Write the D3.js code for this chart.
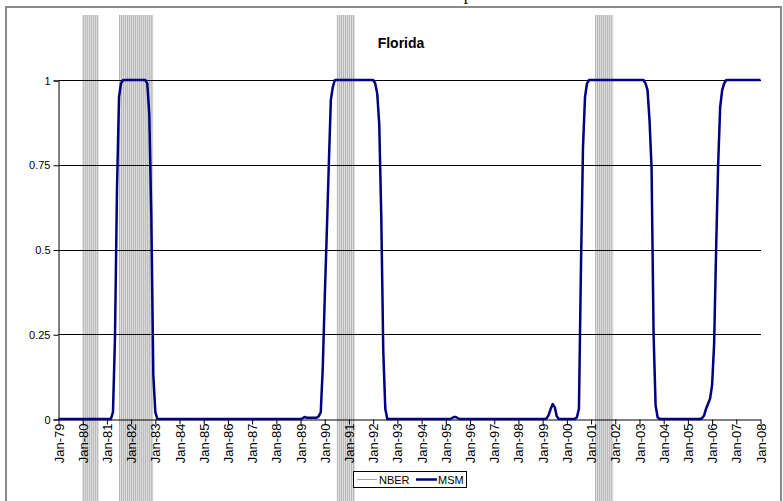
<!DOCTYPE html>
<html>
<head>
<meta charset="utf-8">
<script src="https://cdn.jsdelivr.net/npm/d3@7"></script>
<style>
  html, body { margin: 0; padding: 0; background: #ffffff; }
  text { font-family: "Liberation Sans", Arial, sans-serif; }
</style>
</head>
<body>
<script>
// Monthly regime probabilities, Jan-79 .. Jan-08 (one row per year)
const msm = [
  0,0,0,0,0,0,0,0,0,0,0,0,                               // 1979
  0,0,0,0,0,0,0,0,0,0,0,0,                               // 1980
  0,0,0,0.02,0.24,0.68,0.95,0.99,1,1,1,1,                // 1981
  1,1,1,1,1,1,1,1,0.99,0.9,0.6,0.13,                     // 1982
  0.02,0,0,0,0,0,0,0,0,0,0,0,                            // 1983
  0,0,0,0,0,0,0,0,0,0,0,0,                               // 1984
  0,0,0,0,0,0,0,0,0,0,0,0,                               // 1985
  0,0,0,0,0,0,0,0,0,0,0,0,                               // 1986
  0,0,0,0,0,0,0,0,0,0,0,0,                               // 1987
  0,0,0,0,0,0,0,0,0,0,0,0,                               // 1988
  0,0.002,0.006,0.004,0.004,0.004,0.004,0.004,0.004,0.008,0.02,0.15, // 1989
  0.36,0.55,0.75,0.94,0.98,1,1,1,1,1,1,1,                // 1990
  1,1,1,1,1,1,1,1,1,1,1,1,                               // 1991
  1,0.99,0.96,0.87,0.6,0.2,0.03,0,0,0,0,0,               // 1992
  0,0,0,0,0,0,0,0,0,0,0,0,                               // 1993
  0,0,0,0,0,0,0,0,0,0,0,0,                               // 1994
  0,0,0,0.002,0.006,0.006,0.002,0,0,0,0,0,               // 1995
  0,0,0,0,0,0,0,0,0,0,0,0,                               // 1996
  0,0,0,0,0,0,0,0,0,0,0,0,                               // 1997
  0,0,0,0,0,0,0,0,0,0,0,0,                               // 1998
  0,0,0.002,0.012,0.03,0.044,0.035,0.008,0,0,0,0,        // 1999
  0,0,0,0,0,0.005,0.03,0.45,0.8,0.95,0.99,1,             // 2000
  1,1,1,1,1,1,1,1,1,1,1,1,                               // 2001
  1,1,1,1,1,1,1,1,1,1,1,1,                               // 2002
  1,1,1,0.99,0.97,0.88,0.74,0.25,0.04,0.005,0,0,         // 2003
  0,0,0,0,0,0,0,0,0,0,0,0,                               // 2004
  0,0,0,0,0,0,0,0.002,0.01,0.03,0.045,0.06,              // 2005
  0.1,0.22,0.5,0.75,0.92,0.97,0.99,1,1,1,1,1,            // 2006
  1,1,1,1,1,1,1,1,1,1,1,1,                               // 2007
  1                                                       // Jan 2008
];

// NBER recession spans as [first month, last month] indices from Jan-79
const nberSpans = [[12, 19], [30, 46], [138, 146], [266, 274]];

const xTickLabels = ["Jan-79","Jan-80","Jan-81","Jan-82","Jan-83","Jan-84","Jan-85","Jan-86",
  "Jan-87","Jan-88","Jan-89","Jan-90","Jan-91","Jan-92","Jan-93","Jan-94","Jan-95","Jan-96",
  "Jan-97","Jan-98","Jan-99","Jan-00","Jan-01","Jan-02","Jan-03","Jan-04","Jan-05","Jan-06",
  "Jan-07","Jan-08"];
const yTicks = [0, 0.25, 0.5, 0.75, 1];
const yTickLabels = ["0", "0.25", "0.5", "0.75", "1"];

const W = 783, H = 501;
const svg = d3.select("body").append("svg").attr("width", W).attr("height", H);

// heading line above the chart frame (only its descender falls inside the page)
svg.append("text").attr("x", 468).attr("y", 0)
  .attr("text-anchor", "middle")
  .style("font-family", "'Liberation Serif', serif").style("font-size", "17px")
  .text("p");

// chart frame
svg.append("rect").attr("x", 6).attr("y", 7).attr("width", 775).attr("height", 520)
  .attr("fill", "#ffffff").attr("stroke", "#8a8a8a").attr("stroke-width", 2);

const x = d3.scaleLinear().domain([0, msm.length - 1]).range([58.5, 760.5]);
const y = d3.scaleLinear().domain([0, 1]).range([419, 80]);
const step = x(1) - x(0);

// NBER recession months, one striped column per month
const months = [];
nberSpans.forEach(([a, b]) => { for (let i = a; i <= b; i++) months.push(i); });
const nber = svg.append("g");
nber.selectAll("rect").data(months).join("rect")
  .attr("x", d => x(d)).attr("y", 15)
  .attr("width", step).attr("height", H - 15)
  .attr("fill", "#e0e0e0");
nber.selectAll("line").data(months).join("line")
  .attr("x1", d => x(d) + 0.5).attr("x2", d => x(d) + 0.5)
  .attr("y1", 15).attr("y2", H)
  .attr("stroke", "#b4b4b4").attr("stroke-width", 1);

// horizontal gridlines
svg.append("g").selectAll("line").data(yTicks.filter(d => d > 0)).join("line")
  .attr("x1", 58.5).attr("x2", 761)
  .attr("y1", d => Math.round(y(d)) + 0.5).attr("y2", d => Math.round(y(d)) + 0.5)
  .attr("stroke", "#000").attr("stroke-width", 1);

// y axis
const yAxis = d3.axisLeft(y).tickValues(yTicks)
  .tickFormat((d, i) => yTickLabels[i]).tickSize(5).tickPadding(3);
const gy = svg.append("g").attr("transform", "translate(58.5,0.5)").call(yAxis);
gy.select(".domain").attr("stroke", "#000");
gy.selectAll(".tick line").attr("stroke", "#000");
gy.selectAll("text").style("font-size", "11px").attr("fill", "#000");

// x axis
const xTickVals = xTickLabels.map((_, i) => i * 12);
const xAxis = d3.axisBottom(x).tickValues(xTickVals)
  .tickFormat((d, i) => xTickLabels[i]).tickSize(5).tickSizeOuter(0);
const gx = svg.append("g").attr("transform", "translate(0,419.5)").call(xAxis);
gx.select(".domain").attr("stroke", "#000");
gx.selectAll(".tick line").attr("stroke", "#000");
gx.selectAll("text")
  .style("font-size", "13px").attr("fill", "#000")
  .attr("text-anchor", "end")
  .attr("transform", "rotate(-90)")
  .attr("x", -4).attr("y", 0).attr("dy", "0.35em");

// MSM probability line
svg.append("path").datum(msm)
  .attr("fill", "none").attr("stroke", "#000080").attr("stroke-width", 2.5)
  .attr("stroke-linejoin", "round")
  .attr("d", d3.line().x((d, i) => x(i)).y(d => y(d)));

// panel title
svg.append("text").attr("x", 401).attr("y", 48).attr("text-anchor", "middle")
  .style("font-size", "14px").style("font-weight", "bold").text("Florida");

// legend
const lg = svg.append("g").attr("transform", "translate(353,471)");
lg.append("rect").attr("x", 0.5).attr("y", 0.5).attr("width", 113).attr("height", 16)
  .attr("fill", "#fff").attr("stroke", "#000");
lg.append("line").attr("x1", 4).attr("x2", 24).attr("y1", 8.5).attr("y2", 8.5)
  .attr("stroke", "#a3a3a3").attr("stroke-width", 1);
lg.append("text").attr("x", 26).attr("y", 12.5).style("font-size", "11px").text("NBER");
lg.append("line").attr("x1", 63).attr("x2", 84).attr("y1", 8.5).attr("y2", 8.5)
  .attr("stroke", "#000080").attr("stroke-width", 2.5);
lg.append("text").attr("x", 85).attr("y", 12.5).style("font-size", "11px").text("MSM");
</script>
</body>
</html>
